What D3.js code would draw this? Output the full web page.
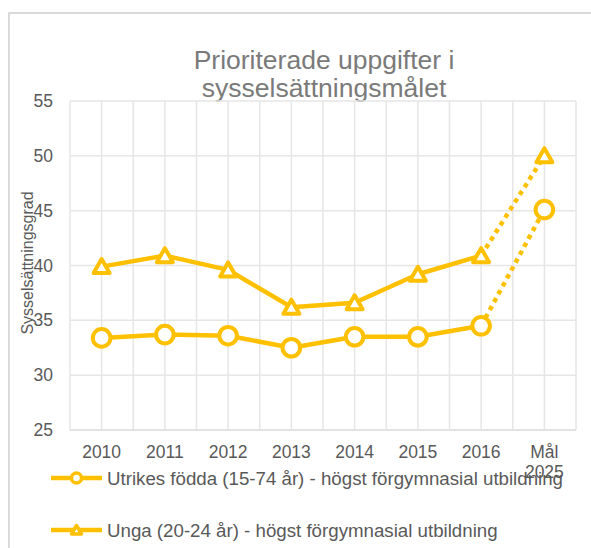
<!DOCTYPE html>
<html lang="sv">
  <head>
    <meta charset="utf-8">
    <title>Prioriterade uppgifter i sysselsättningsmålet</title>
    <script src="https://cdn.jsdelivr.net/npm/d3@7"></script>
    <style>
      body { margin: 0; background: #fff; }
      text { font-family: "Liberation Sans", Arial, sans-serif; }
    </style>
  </head>
  <body>
    <script>

      var w = 591;
      var h = 548;
      var margin = { top: 101, right: 15, bottom: 118, left: 70 };

      // data
      var categories = ["2010", "2011", "2012", "2013", "2014", "2015", "2016", "Mål 2025"];
      var utrikes = [33.4, 33.7, 33.6, 32.5, 33.5, 33.5, 34.5, 45.1];
      var unga = [39.9, 40.9, 39.6, 36.2, 36.6, 39.2, 40.9, 50.0];
      var yTicks = [25, 30, 35, 40, 45, 50, 55];
      var seriesNames = [
        "Utrikes födda (15-74 år) - högst förgymnasial utbildning",
        "Unga (20-24 år) - högst förgymnasial utbildning"
      ];
      var lastActual = 6;   // 2016, after that the target (dotted)

      var gold = "#FFC000";

      var xScale = d3.scaleBand()
                     .domain(categories)
                     .range([margin.left, w - margin.right]);

      var yScale = d3.scaleLinear()
                     .domain([25, 55])
                     .range([h - margin.bottom, margin.top]);

      var svg = d3.select("body")
                  .append("svg")
                  .attr("width", w)
                  .attr("height", h);

      // chart frame (only top and left visible)
      svg.append("rect")
         .attr("x", 9)
         .attr("y", 13)
         .attr("width", 700)
         .attr("height", 700)
         .attr("fill", "none")
         .attr("stroke", "#d9d9d9")
         .attr("stroke-width", 2);

      // title
      var title = svg.append("text")
                     .attr("text-anchor", "middle")
                     .attr("font-size", "26.5px")
                     .attr("fill", "#7a7a7a");
      title.append("tspan").attr("x", 324).attr("y", 69).text("Prioriterade uppgifter i");
      title.append("tspan").attr("x", 324).attr("y", 97).text("sysselsättningsmålet");

      // horizontal grid
      svg.append("g")
         .selectAll("line")
         .data(yTicks)
         .enter()
         .append("line")
         .attr("x1", margin.left)
         .attr("x2", w - margin.right)
         .attr("y1", function(d) { return yScale(d); })
         .attr("y2", function(d) { return yScale(d); })
         .attr("stroke", function(d) { return d === 25 ? "#d9d9d9" : "#e6e6e6"; })
         .attr("stroke-width", 1.5);

      // vertical grid: band edges and band centres
      var vLines = [];
      categories.forEach(function(c) {
        vLines.push(xScale(c));
        vLines.push(xScale(c) + xScale.bandwidth() / 2);
      });
      vLines.push(xScale.range()[1]);

      svg.append("g")
         .selectAll("line")
         .data(vLines)
         .enter()
         .append("line")
         .attr("x1", function(d) { return d; })
         .attr("x2", function(d) { return d; })
         .attr("y1", yScale(55))
         .attr("y2", yScale(25))
         .attr("stroke", "#e6e6e6")
         .attr("stroke-width", 1.5);

      // y axis labels
      var yAxis = d3.axisLeft(yScale)
                    .tickValues(yTicks)
                    .tickSize(0)
                    .tickPadding(17);

      var gy = svg.append("g")
                  .attr("transform", "translate(" + margin.left + ",0)")
                  .call(yAxis);
      gy.select(".domain").remove();
      gy.selectAll("text")
        .attr("font-size", "17.5px")
        .attr("font-family", "'Liberation Sans', Arial, sans-serif")
        .attr("fill", "#595959");

      // x axis labels (Mål 2025 on two lines)
      var xLabels = svg.append("g")
                       .selectAll("text")
                       .data(categories)
                       .enter()
                       .append("text")
                       .attr("text-anchor", "middle")
                       .attr("font-size", "17.5px")
                       .attr("fill", "#595959");
      xLabels.each(function(d) {
        var parts = d.split(" ");
        var t = d3.select(this);
        parts.forEach(function(p, i) {
          t.append("tspan")
           .attr("x", xScale(d) + xScale.bandwidth() / 2)
           .attr("y", 458 + i * 19.5)
           .text(p);
        });
      });

      // y axis title
      svg.append("text")
         .attr("transform", "translate(33,263) rotate(-90)")
         .attr("text-anchor", "middle")
         .attr("font-size", "16px")
         .attr("fill", "#595959")
         .text("Sysselsättningsgrad");

      var cx = function(d, i) { return xScale(categories[i]) + xScale.bandwidth() / 2; };

      var line = d3.line()
                   .x(function(d) { return d.x; })
                   .y(function(d) { return d.y; });

      function pts(values, from, to) {
        var out = [];
        for (var i = from; i <= to; i++) {
          out.push({ x: cx(null, i), y: yScale(values[i]) });
        }
        return out;
      }

      var triangle = "M0,-7.5L8,6.5L-8,6.5Z";
      var smallTriangle = "M0,-4.5L5,4L-5,4Z";

      [utrikes, unga].forEach(function(values) {
        // dotted part towards the 2025 target
        svg.append("path")
           .attr("d", line(pts(values, lastActual, values.length - 1)))
           .attr("fill", "none")
           .attr("stroke", gold)
           .attr("stroke-width", 4.5)
           .attr("stroke-dasharray", "4.5,4.5");
        // solid part
        svg.append("path")
           .attr("d", line(pts(values, 0, lastActual)))
           .attr("fill", "none")
           .attr("stroke", gold)
           .attr("stroke-width", 4.5)
           .attr("stroke-linejoin", "round");
      });

      // markers
      svg.append("g")
         .selectAll("circle")
         .data(utrikes)
         .enter()
         .append("circle")
         .attr("cx", cx)
         .attr("cy", function(d) { return yScale(d); })
         .attr("r", 8.8)
         .attr("fill", "#fff")
         .attr("stroke", gold)
         .attr("stroke-width", 4);

      svg.append("g")
         .selectAll("path")
         .data(unga)
         .enter()
         .append("path")
         .attr("d", triangle)
         .attr("transform", function(d, i) {
           return "translate(" + cx(d, i) + "," + yScale(d) + ")";
         })
         .attr("fill", "#fff")
         .attr("stroke", gold)
         .attr("stroke-width", 4)
         .attr("stroke-linejoin", "round");

      // legend
      var legendY = [478, 530];
      var legend = svg.append("g")
                      .selectAll("g")
                      .data(seriesNames)
                      .enter()
                      .append("g")
                      .attr("transform", function(d, i) { return "translate(0," + legendY[i] + ")"; });

      legend.append("line")
            .attr("x1", 51)
            .attr("x2", 102)
            .attr("stroke", gold)
            .attr("stroke-width", 4.5);

      legend.filter(function(d, i) { return i === 0; })
            .append("circle")
            .attr("cx", 76.5)
            .attr("r", 5)
            .attr("fill", "#fff")
            .attr("stroke", gold)
            .attr("stroke-width", 3.5);

      legend.filter(function(d, i) { return i === 1; })
            .append("path")
            .attr("d", smallTriangle)
            .attr("transform", "translate(76.5,0)")
            .attr("fill", "#fff")
            .attr("stroke", gold)
            .attr("stroke-width", 3.5)
            .attr("stroke-linejoin", "round");

      legend.append("text")
            .attr("x", 107)
            .attr("y", 6.5)
            .attr("font-size", "18.7px")
            .attr("fill", "#595959")
            .text(function(d) { return d; });

    </script>
  </body>
</html>
